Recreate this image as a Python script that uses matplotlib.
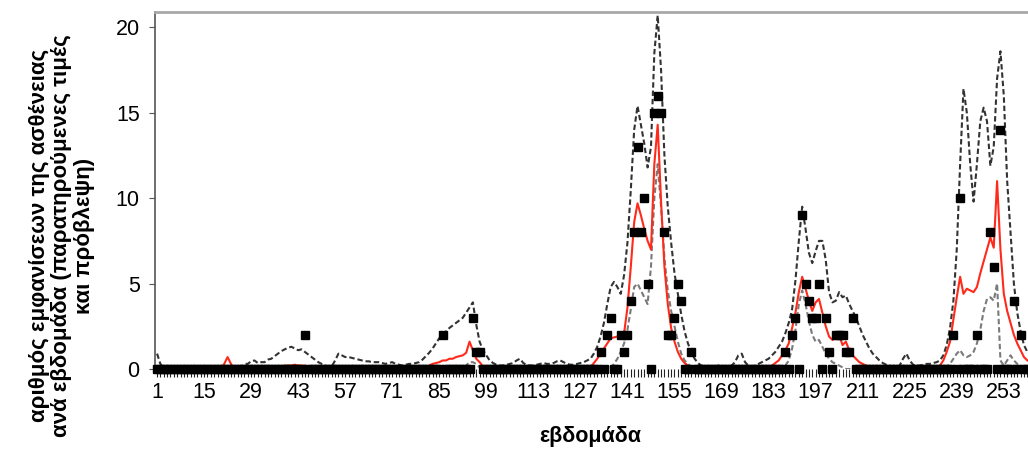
import numpy as np
import matplotlib
matplotlib.use('Agg')
import matplotlib.pyplot as plt

plt.rcParams['font.family'] = ['Liberation Sans', 'DejaVu Sans']

weeks = np.arange(1, 261)

# observed cases per week, only the non-zero weeks (all other weeks are 0)
observed_nz = {45: 2, 86: 2, 95: 3, 96: 1, 97: 1,
               133: 1, 135: 2, 136: 3, 139: 2, 140: 1, 141: 2, 142: 4, 143: 8, 144: 13,
               145: 8, 146: 10, 147: 5, 149: 15, 150: 16, 151: 15, 152: 8, 153: 2, 154: 2,
               155: 3, 156: 5, 157: 4, 160: 1,
               188: 1, 190: 2, 191: 3, 193: 9, 194: 5, 195: 4, 196: 3, 197: 3, 198: 5,
               200: 3, 201: 1, 203: 2, 204: 2, 205: 2, 206: 1, 207: 1, 208: 3,
               238: 2, 240: 10, 245: 2, 249: 8, 250: 6, 252: 14, 256: 4, 258: 2}

# forecast (red line)
forecast_nz = {21: 0.3, 22: 0.7, 23: 0.3,
               38: 0.15, 39: 0.2, 40: 0.2, 41: 0.2, 42: 0.25, 43: 0.2, 44: 0.2, 45: 0.2, 46: 0.1,
               81: 0.1, 82: 0.2, 83: 0.3, 84: 0.35, 85: 0.4, 86: 0.5, 87: 0.5, 88: 0.6, 89: 0.6,
               90: 0.7, 91: 0.75, 92: 0.8, 93: 0.95, 94: 1.6, 95: 1.1, 96: 0.6, 97: 0.4, 98: 0.15,
               130: 0.1, 131: 0.35, 132: 0.6, 133: 0.9, 134: 1.2, 135: 1.5, 136: 1.8, 137: 1.85,
               138: 1.9, 139: 1.95, 140: 2.1, 141: 3.6, 142: 6.0, 143: 8.6, 144: 9.7, 145: 9.0,
               146: 8.2, 147: 7.5, 148: 7.0, 149: 12.0, 150: 14.3, 151: 9.8, 152: 6.0, 153: 3.8,
               154: 2.4, 155: 1.6, 156: 1.0, 157: 0.6, 158: 0.35, 159: 0.2, 160: 0.1,
               184: 0.2, 185: 0.35, 186: 0.5, 187: 0.8, 188: 1.1, 189: 1.5, 190: 2.4, 191: 3.3,
               192: 4.5, 193: 5.4, 194: 4.7, 195: 4.0, 196: 3.4, 197: 3.9, 198: 4.1, 199: 3.3,
               200: 2.5, 201: 1.9, 202: 1.7, 203: 1.8, 204: 2.0, 205: 1.4, 206: 1.6, 207: 1.1,
               208: 0.8, 209: 0.6, 210: 0.4, 211: 0.3, 212: 0.2, 213: 0.1,
               233: 0.1, 234: 0.2, 235: 0.5, 236: 1.0, 237: 1.6, 238: 2.9, 239: 4.2, 240: 5.4,
               241: 4.4, 242: 4.7, 243: 4.6, 244: 4.5, 245: 4.8, 246: 5.6, 247: 6.3, 248: 7.0,
               249: 7.7, 250: 7.1, 251: 11.0, 252: 7.0, 253: 4.4, 254: 3.4, 255: 2.7, 256: 2.0,
               257: 1.5, 258: 1.1, 259: 0.7, 260: 0.5}

# upper prediction bound
upper_nz = {1: 0.9, 2: 0.3, 3: 0.05,
            26: 0.1, 27: 0.3, 28: 0.3, 29: 0.45, 30: 0.5, 31: 0.35, 32: 0.4, 33: 0.4, 34: 0.55,
            35: 0.6, 36: 0.75, 37: 0.9, 38: 1.05, 39: 1.15, 40: 1.25, 41: 1.3, 42: 1.2, 43: 1.1,
            44: 1.15, 45: 1.0, 46: 0.85, 47: 0.7, 48: 0.55, 49: 0.4, 50: 0.3, 51: 0.2, 52: 0.15,
            53: 0.15, 54: 0.5, 55: 0.9, 56: 0.8, 57: 0.7, 58: 0.7, 59: 0.65, 60: 0.6, 61: 0.55,
            62: 0.5, 63: 0.45, 64: 0.45, 65: 0.4, 66: 0.4, 67: 0.4, 68: 0.35, 69: 0.3, 70: 0.35,
            71: 0.4, 72: 0.3, 73: 0.25, 74: 0.2, 75: 0.25, 76: 0.3, 77: 0.3, 78: 0.35, 79: 0.4,
            80: 0.55, 81: 0.75, 82: 0.95, 83: 1.2, 84: 1.5, 85: 1.8, 86: 2.0, 87: 2.2, 88: 2.4,
            89: 2.55, 90: 2.7, 91: 2.85, 92: 3.0, 93: 3.3, 94: 3.6, 95: 3.9, 96: 2.6, 97: 1.6,
            98: 1.1, 99: 0.8, 100: 0.5, 101: 0.35, 102: 0.25, 103: 0.2, 104: 0.2, 105: 0.25,
            106: 0.3, 107: 0.35, 108: 0.5, 109: 0.6, 110: 0.35, 111: 0.25, 112: 0.2, 113: 0.2,
            114: 0.25, 115: 0.3, 116: 0.35, 117: 0.3, 118: 0.3, 119: 0.35, 120: 0.45, 121: 0.5,
            122: 0.4, 123: 0.3, 124: 0.25, 125: 0.25, 126: 0.3, 127: 0.35, 128: 0.4, 129: 0.5,
            130: 0.6, 131: 0.9, 132: 1.3, 133: 1.9, 134: 2.7, 135: 3.8, 136: 4.8, 137: 5.1,
            138: 4.8, 139: 4.4, 140: 5.5, 141: 7.4, 142: 10.5, 143: 14.0, 144: 15.4, 145: 14.3,
            146: 13.2, 147: 11.8, 148: 13.0, 149: 18.5, 150: 20.7, 151: 17.5, 152: 12.5,
            153: 9.5, 154: 7.4, 155: 5.6, 156: 4.4, 157: 3.2, 158: 2.2, 159: 1.5, 160: 1.0,
            161: 0.6, 162: 0.35, 163: 0.2, 164: 0.15, 165: 0.1, 166: 0.1, 167: 0.15, 168: 0.2,
            169: 0.2, 170: 0.15, 171: 0.15, 172: 0.2, 173: 0.4, 174: 0.8, 175: 0.9, 176: 0.4,
            177: 0.2, 178: 0.15, 179: 0.2, 180: 0.3, 181: 0.4, 182: 0.5, 183: 0.6, 184: 0.8,
            185: 1.0, 186: 1.3, 187: 1.6, 188: 2.1, 189: 2.7, 190: 3.5, 191: 5.2, 192: 7.5,
            193: 9.5, 194: 8.2, 195: 6.8, 196: 6.2, 197: 6.9, 198: 7.5, 199: 7.5, 200: 6.4,
            201: 4.5, 202: 3.9, 203: 4.0, 204: 4.5, 205: 4.2, 206: 4.3, 207: 3.8, 208: 3.4,
            209: 3.0, 210: 2.5, 211: 2.0, 212: 1.6, 213: 1.2, 214: 0.9, 215: 0.7, 216: 0.5,
            217: 0.35, 218: 0.25, 219: 0.2, 220: 0.15, 221: 0.15, 222: 0.2, 223: 0.6, 224: 0.9,
            225: 0.5, 226: 0.25, 227: 0.2, 228: 0.2, 229: 0.25, 230: 0.3, 231: 0.3, 232: 0.35,
            233: 0.4, 234: 0.5, 235: 0.8, 236: 1.4, 237: 2.4, 238: 4.0, 239: 7.0, 240: 12.0,
            241: 16.4, 242: 15.0, 243: 12.0, 244: 9.8, 245: 12.0, 246: 14.5, 247: 15.3,
            248: 14.5, 249: 11.9, 250: 13.0, 251: 17.0, 252: 18.6, 253: 16.0, 254: 11.0,
            255: 8.0, 256: 5.0, 257: 3.3, 258: 2.2, 259: 1.4, 260: 1.0}

# lower prediction bound
lower_nz = {93: 0.2, 94: 0.4, 95: 0.4, 96: 0.3, 97: 0.1,
            136: 0.1, 137: 0.3, 138: 0.6, 139: 1.0, 140: 1.5, 141: 2.3, 142: 3.5, 143: 4.8,
            144: 5.0, 145: 4.6, 146: 4.2, 147: 3.8, 148: 6.0, 149: 10.0, 150: 12.0, 151: 9.5,
            152: 6.5, 153: 4.6, 154: 3.4, 155: 2.5, 156: 1.6, 157: 0.9, 158: 0.5, 159: 0.3,
            160: 0.15,
            188: 0.2, 189: 0.5, 190: 1.2, 191: 2.3, 192: 3.8, 193: 4.6, 194: 3.8, 195: 2.8,
            196: 2.0, 197: 1.6, 198: 1.7, 199: 1.3, 200: 0.9, 201: 0.6, 202: 0.4, 203: 0.3,
            204: 0.2, 205: 0.1,
            236: 0.1, 237: 0.3, 238: 0.6, 239: 0.9, 240: 1.1, 241: 0.8, 242: 0.7, 243: 0.8,
            244: 1.0, 245: 1.5, 246: 2.3, 247: 3.4, 248: 4.1, 249: 4.2, 250: 4.0, 251: 5.0,
            252: 0.5, 253: 0.2, 254: 0.5, 255: 0.8, 256: 0.5, 257: 0.3}

ylabel_txt = 'αριθμός εμφανίσεων της ασθένειας\nανά εβδομάδα (παρατηρούμενες τιμές\nκαι πρόβλεψη)'
xlabel_txt = 'εβδομάδα'


def series(nz):
    s = np.zeros(len(weeks))
    for w, v in nz.items():
        s[w - 1] = v
    return s


observed = series(observed_nz)
forecast = series(forecast_nz)
upper = series(upper_nz)
lower = series(lower_nz)

fig = plt.figure(figsize=(10.28, 4.58), dpi=100)
ax = fig.add_axes((155 / 1028, 89 / 458, 873 / 1028, 357 / 458))

dash = (0, (2.6, 1.4))
ax.plot(weeks, lower, color='#7a7a7a', lw=1.5, ls=dash, zorder=2)
ax.plot(weeks, upper, color='#333333', lw=1.5, ls=dash, zorder=2)
ax.plot(weeks, forecast, color='#ff2a1a', lw=1.5, zorder=3)
ax.plot(weeks, observed, ls='', marker='s', ms=6, color='black', zorder=4, clip_on=False)

ax.set_xlim(0.4, 260.2)
ax.set_ylim(0, 20.9)
ax.set_yticks([0, 5, 10, 15, 20])
ax.set_xticks(weeks)
ax.set_xticklabels([str(w) if (w - 1) % 14 == 0 else '' for w in weeks])
ax.tick_params(axis='x', length=6, width=0.8, color='#222222', pad=3, labelsize=15.5)
ax.tick_params(axis='y', length=4, width=0.8, color='#555555', pad=7, labelsize=15.5)

ax.spines['right'].set_visible(False)
ax.spines['bottom'].set_visible(False)
ax.spines['top'].set_color('#a8a8a8')
ax.spines['top'].set_linewidth(2)
ax.spines['left'].set_color('#555555')
ax.spines['left'].set_linewidth(1.2)

fig.text(62 / 1028, 0.485, ylabel_txt, rotation=90, ha='center', va='center',
         multialignment='center', fontsize=16, fontweight='bold', linespacing=1.05)
fig.text(590 / 1028, 0.046, xlabel_txt, ha='center', va='center',
         fontsize=15.5, fontweight='bold')

plt.savefig('out.png', dpi=100)
